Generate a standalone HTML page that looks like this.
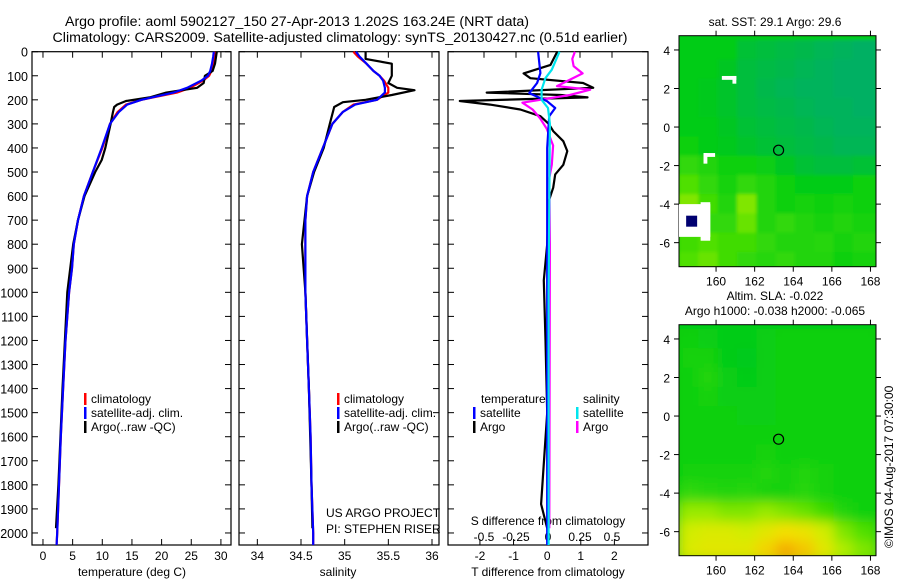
<!DOCTYPE html>
<html><head><meta charset="utf-8"><title>Argo profile</title>
<style>
html,body{margin:0;padding:0;background:#fff;}
svg{display:block;font-family:"Liberation Sans",sans-serif;}
text{fill:#000;}
</style></head>
<body>
<svg id="chart" width="900" height="580" viewBox="0 0 900 580" xmlns="http://www.w3.org/2000/svg">
<defs>
<clipPath id="clipMap1"><rect x="679" y="35.7" width="197" height="231"/></clipPath>
<clipPath id="clipMap2"><rect x="679" y="324.7" width="197" height="231"/></clipPath>
<filter id="blur1" x="-5%" y="-5%" width="110%" height="110%"><feGaussianBlur stdDeviation="1.5"/></filter>
<filter id="blur2" x="-5%" y="-5%" width="110%" height="110%"><feGaussianBlur stdDeviation="6"/></filter>
</defs>
<text x="297" y="26" font-size="14.2" text-anchor="middle">Argo profile: aoml 5902127_150 27-Apr-2013 1.202S 163.24E (NRT data)</text>
<text x="340" y="42" font-size="14.2" text-anchor="middle">Climatology: CARS2009. Satellite-adjusted climatology: synTS_20130427.nc (0.51d earlier)</text>
<text x="775" y="26" font-size="12" text-anchor="middle">sat. SST: 29.1 Argo: 29.6</text>
<text x="775" y="300" font-size="12" text-anchor="middle">Altim. SLA: -0.022</text>
<text x="775" y="315" font-size="12" text-anchor="middle">Argo h1000: -0.038 h2000: -0.065</text>
<text transform="translate(893,548) rotate(-90)" font-size="12">©IMOS 04-Aug-2017 07:30:00</text>
<g id="layer"></g>
</svg>
<script>
// ---------- profile data ----------
const depthClim = [0,20,50,80,100,120,150,170,200,220,250,300,400,500,600,700,800,900,1000,1200,1400,1600,1800,2000,2050];
const climT = [29.0,28.9,28.7,28.4,28.0,27.0,24.8,22.6,16.6,14.0,12.6,11.3,10.0,8.4,6.9,5.9,5.2,4.9,4.4,3.8,3.4,3.0,2.7,2.4,2.3];
const satT  = [28.8,28.7,28.5,28.2,27.8,26.7,24.3,22.0,16.6,14.2,12.8,11.3,9.9,8.4,6.9,5.9,5.2,4.9,4.4,3.8,3.4,3.0,2.7,2.4,2.3];
const climS = [35.10,35.15,35.25,35.33,35.40,35.45,35.50,35.50,35.37,35.10,34.98,34.86,34.75,34.64,34.57,34.55,34.55,34.55,34.55,34.57,34.59,34.61,34.62,34.64,34.64];
const satS  = [35.13,35.17,35.25,35.33,35.40,35.44,35.46,35.46,35.37,35.12,34.98,34.86,34.75,34.64,34.57,34.55,34.55,34.55,34.55,34.57,34.59,34.61,34.62,34.64,34.64];
const depthArgoT = [0,50,80,100,130,150,170,190,205,220,230,250,300,400,450,500,600,700,800,1000,1400,1800,1980];
const argoT = [29.3,29.0,28.6,27.3,27.1,26.0,20.8,18.0,14.0,12.5,12.0,11.8,11.4,10.5,9.9,8.8,7.0,5.9,5.1,4.1,3.3,2.6,2.2];
const depthArgoS = [0,30,50,80,100,130,150,160,180,200,210,230,300,400,500,600,800,1000,1400,1800,1980];
const argoS = [35.24,35.24,35.54,35.54,35.54,35.50,35.60,35.80,35.54,35.24,34.98,34.88,34.83,34.76,34.65,34.57,34.51,34.55,34.59,34.62,34.63];
// difference panel
const depthArgoTd = [0,55,90,110,130,150,170,180,190,205,220,240,268,300,330,372,413,470,510,565,620,800,950,1200,1500,1880,1980];
const argoTdiff = [0.3,0.1,-0.7,-0.5,1.07,1.37,-1.8,0.4,1.2,-2.6,-1.7,-0.8,-0.2,0.05,0.18,0.48,0.6,0.48,0.24,0.18,0.05,0,-0.1,-0.05,0,-0.18,0];
const depthSatTd = [0,89,130,172,206,234,268,400,1000,2050];
const satTdiff = [-0.27,-0.2,-0.3,-0.53,0,0.24,0.06,0,0,0];
const depthSatSd = [0,75,110,158,200,234,300,1000,2050];
const satSdiff = [0.09,0.03,-0.02,-0.05,-0.05,0,0.015,0.005,0.005];
const depthArgoSd = [0,30,60,90,143,158,180,212,240,278,320,390,470,525,800,1980];
const argoSdiff = [0.21,0.19,0.2,0.27,0.07,0.33,0.17,-0.2,-0.12,-0.06,-0.01,0.04,0.03,0.01,0.015,0.01];
// axis ticks
const depthTicks = [0,100,200,300,400,500,600,700,800,900,1000,1100,1200,1300,1400,1500,1600,1700,1800,1900,2000];
const tempTicks = [0,5,10,15,20,25,30];
const salTicks = [34,34.5,35,35.5,36];
const salTickLabels = ["34","34.5","35","35.5","36"];
const tdTicks = [-2,-1,0,1,2];
const sdTicks = [-0.5,-0.25,0,0.25,0.5];
const sdTickLabels = ["-0.5","-0.25","0","0.25","0.5"];
const lonTicks = [160,162,164,166,168];
const latTicks = [4,2,0,-2,-4,-6];
// map grids (rows lat 4..-7, cols lon 158.5..167.5), colour index 0 teal .. 5 orange
const mapLats = [4.5,3.5,2.5,1.5,0.5,-0.5,-1.5,-2.5,-3.5,-4.5,-5.5,-6.5,-7.5];
const mapLons = [158.08,159.1,160.1,161.1,162.1,163.1,164.1,165.1,166.1,167.1,168.3];
const sstGrid = [
[1,1,1,0.6,0.5,0.4,0.3,0.2,0.1,0],
[1,1,0.8,0.5,0.4,0.3,0.2,0.1,0,0],
[1,0.9,0.7,0.5,0.3,0.2,0.1,0.1,0,0],
[1,0.9,0.7,0.5,0.4,0.3,0.2,0.1,0.1,0],
[1,1,0.8,0.6,0.5,0.4,0.3,0.2,0.1,0.1],
[1.2,1,0.9,0.7,0.6,0.5,0.4,0.3,0.2,0.2],
[1.6,1.4,1.2,1.2,1.1,0.8,0.6,0.5,0.5,0.6],
[2,1.6,1.3,1.6,1.4,1.2,1,1,1,1.2],
[2.4,1.8,1.4,2.4,1.4,1.2,1.3,1.2,1.3,1.2],
[2.2,1.6,1.6,2.2,1.4,1.6,1.4,1.3,1.4,1.3],
[1.8,2,1.8,1.8,1.6,1.4,1.4,1.5,1.3,1.4],
[2,2.2,1.8,1.6,1.5,1.6,1.4,1.4,1.2,1.3]];
const slaGrid = [
[1.2,1.1,1.0,1.0,1.1,1.2,1.2,1.2,1.2,1.2],
[1.3,1.3,1.0,0.9,1.1,1.2,1.2,1.2,1.2,1.2],
[1.2,1.4,1.1,1.0,1.1,1.2,1.2,1.2,1.2,1.2],
[1.2,1.3,1.1,1.1,1.1,1.2,1.2,1.2,1.2,1.2],
[1.2,1.2,1.2,1.1,1.1,1.2,1.2,1.2,1.2,1.2],
[1.2,1.2,1.2,1.2,1.2,1.2,1.2,1.2,1.2,1.2],
[1.2,1.2,1.2,1.2,1.3,1.2,1.2,1.2,1.2,1.2],
[1.3,1.3,1.3,1.3,1.4,1.3,1.4,1.3,1.2,1.2],
[1.6,1.5,1.4,1.5,1.3,1.3,1.5,1.3,1.2,1.2],
[2.6,2.6,2.4,2.4,2.6,2.4,2.2,1.8,1.4,1.2],
[3.2,3.4,3.4,3.2,3.6,4.0,3.8,3.2,2.4,2.0],
[3.4,3.6,3.6,3.6,4.2,4.8,4.4,3.6,2.8,2.4]];
const floatLon = [163.24];
const floatLat = [-1.202];

// ---------- helpers ----------
const NS = "http://www.w3.org/2000/svg";
const layer = document.getElementById("layer");
function mk(tag, attrs, parent) {
  const e = document.createElementNS(NS, tag);
  for (const k in attrs) e.setAttribute(k, attrs[k]);
  (parent || layer).appendChild(e);
  return e;
}
const yTop = 51.7, yBot = 545, dMax = 2050;
function yD(d) { return yTop + d * (yBot - yTop) / dMax; }
const P1 = {l: 32, r: 231, min: -1.85, max: 31.7};
const P2 = {l: 239, r: 439, min: 33.79, max: 36.08};
const P3 = {l: 448, r: 648, min: -2.95, max: 3.0};
function xScale(p, v) { return p.l + (v - p.min) * (p.r - p.l) / (p.max - p.min); }
function xS3(v) { return 548 + v * 128; }

function frame(p, name) {
  const f = mk("rect", {x: p.l, y: yTop, width: p.r - p.l, height: yBot - yTop, fill: "none", stroke: "#000", "stroke-width": 1.2});
  
  
  depthTicks.forEach(d => {
    const y = yD(d);
    mk("line", {x1: p.l, x2: p.l + 6, y1: y, y2: y, stroke: "#000"});
    mk("line", {x1: p.r, x2: p.r - 6, y1: y, y2: y, stroke: "#000"});
  });
}
function line(depths, vals, xf, color, name, w) {
  const pts = depths.map((d, i) => xf(vals[i]).toFixed(1) + "," + yD(d).toFixed(1)).join(" ");
  const e = mk("polyline", {points: pts, fill: "none", stroke: color, "stroke-width": w || 2.2, "stroke-linejoin": "round"});
  
  
}
function txt(x, y, s, size, anchor, name) {
  const t = mk("text", {x: x, y: y, "font-size": size, "text-anchor": anchor || "start"});
  t.textContent = s;
  
  
  return t;
}
function legendBar(x, y, color, name) {
  const r = mk("rect", {x: x, y: y - 10, width: 2.5, height: 12, fill: color});
  
  
}

// ---------- panel 1: temperature ----------
frame(P1, "temperature-panel");
depthTicks.forEach(d => txt(28, yD(d) + 5, String(d), 12.5, "end", "depth-tick-label"));
tempTicks.forEach(v => {
  const x = xScale(P1, v);
  mk("line", {x1: x, x2: x, y1: yTop, y2: yTop + 6, stroke: "#000"});
  mk("line", {x1: x, x2: x, y1: yBot, y2: yBot - 6, stroke: "#000"});
  txt(x, 560, String(v), 12, "middle", "temperature-tick-label");
});
txt(132, 576, "temperature (deg C)", 12, "middle", "temperature-axis-title");
line(depthClim, climT, v => xScale(P1, v), "#ff0000", "temperature-climatology-line");
line(depthArgoT, argoT, v => xScale(P1, v), "#000000", "temperature-argo-line");
line(depthClim, satT, v => xScale(P1, v), "#0000ff", "temperature-satellite-line");
legendBar(84, 403, "#ff0000", "legend-climatology-marker");
txt(91, 403, "climatology", 12, "start", "legend-climatology");
legendBar(84, 417, "#0000ff", "legend-satellite-marker");
txt(91, 417, "satellite-adj. clim.", 12, "start", "legend-satellite-adj");
legendBar(84, 431, "#000000", "legend-argo-marker");
txt(91, 431, "Argo(..raw -QC)", 12, "start", "legend-argo");

// ---------- panel 2: salinity ----------
frame(P2, "salinity-panel");
salTicks.forEach((v, i) => {
  const x = xScale(P2, v);
  mk("line", {x1: x, x2: x, y1: yTop, y2: yTop + 6, stroke: "#000"});
  mk("line", {x1: x, x2: x, y1: yBot, y2: yBot - 6, stroke: "#000"});
  txt(x, 560, salTickLabels[i], 12, "middle", "salinity-tick-label");
});
txt(338, 576, "salinity", 12, "middle", "salinity-axis-title");
line(depthClim, climS, v => xScale(P2, v), "#ff0000", "salinity-climatology-line");
line(depthArgoS, argoS, v => xScale(P2, v), "#000000", "salinity-argo-line");
line(depthClim, satS, v => xScale(P2, v), "#0000ff", "salinity-satellite-line");
legendBar(337, 403, "#ff0000", "legend-climatology-marker");
txt(344, 403, "climatology", 12, "start", "legend-climatology");
legendBar(337, 417, "#0000ff", "legend-satellite-marker");
txt(344, 417, "satellite-adj. clim.", 12, "start", "legend-satellite-adj");
legendBar(337, 431, "#000000", "legend-argo-marker");
txt(344, 431, "Argo(..raw -QC)", 12, "start", "legend-argo");
txt(326, 517, "US ARGO PROJECT", 12, "start", "project-label");
txt(326, 533, "PI: STEPHEN RISER", 12, "start", "pi-label");

// ---------- panel 3: differences ----------
frame(P3, "difference-panel");
tdTicks.forEach(v => {
  const x = xScale(P3, v);
  mk("line", {x1: x, x2: x, y1: yBot, y2: yBot - 6, stroke: "#000"});
  txt(x, 560, String(v), 12, "middle", "t-diff-tick-label");
});
sdTicks.forEach((v, i) => {
  const x = xS3(v);
  mk("line", {x1: x, x2: x, y1: yTop, y2: yTop + 6, stroke: "#000"});
  txt(x, 541, sdTickLabels[i], 12, "middle", "s-diff-tick-label");
});
txt(548, 525, "S difference from climatology", 12, "middle", "s-diff-axis-title");
txt(548, 576, "T difference from climatology", 12, "middle", "t-diff-axis-title");
line(depthArgoTd, argoTdiff, v => xScale(P3, v), "#000000", "t-diff-argo-line");
line(depthArgoSd, argoSdiff, xS3, "#ff00ff", "s-diff-argo-line");
line(depthSatTd, satTdiff, v => xScale(P3, v), "#0000ff", "t-diff-satellite-line");
line(depthSatSd, satSdiff, xS3, "#00e5ee", "s-diff-satellite-line");
txt(481, 403, "temperature", 12, "start", "legend-temperature-heading");
txt(583, 403, "salinity", 12, "start", "legend-salinity-heading");
legendBar(473, 417, "#0000ff", "legend-t-satellite-marker");
txt(480, 417, "satellite", 12, "start", "legend-t-satellite");
legendBar(473, 431, "#000000", "legend-t-argo-marker");
txt(480, 431, "Argo", 12, "start", "legend-t-argo");
legendBar(576, 417, "#00e5ee", "legend-s-satellite-marker");
txt(583, 417, "satellite", 12, "start", "legend-s-satellite");
legendBar(576, 431, "#ff00ff", "legend-s-argo-marker");
txt(583, 431, "Argo", 12, "start", "legend-s-argo");

// ---------- maps ----------
const cmapStops = [[0,[0,176,100]],[1,[0,204,20]],[2,[80,224,0]],[3,[200,240,0]],[4,[244,224,0]],[5,[244,160,0]]];
function cmap(v) {
  for (let i = 0; i < cmapStops.length - 1; i++) {
    const a = cmapStops[i], b = cmapStops[i + 1];
    if (v <= b[0] || i === cmapStops.length - 2) {
      const t = Math.max(0, Math.min(1, (v - a[0]) / (b[0] - a[0])));
      const c = a[1].map((x, k) => Math.round(x + (b[1][k] - x) * t));
      return "rgb(" + c.join(",") + ")";
    }
  }
}
function drawMap(y0, grid, clip, filt, name) {
  const lonX = lon => 679 + (lon - 158.08) * 19.3;
  const latY = lat => y0 + (4.74 - lat) * 19.27;
  const g = mk("g", {"clip-path": "url(#" + clip + ")"});
  
  
  const gi = mk("g", {filter: "url(#" + filt + ")"}, g);
  mk("rect", {x: 660, y: y0 - 20, width: 240, height: 280, fill: cmap(1)}, gi);
  grid.forEach((row, r) => row.forEach((v, c) => {
    const x1 = lonX(mapLons[c]), x2 = lonX(mapLons[c + 1]);
    const ya = latY(Math.min(mapLats[r], 4.74)), yb = latY(mapLats[r + 1]);
    const cell = mk("rect", {x: x1 - 0.3, y: ya - 0.3, width: x2 - x1 + 0.6, height: yb - ya + 0.6, fill: cmap(v)}, gi);
    
    
  }));
  const fr = mk("rect", {x: 679, y: y0, width: 197, height: 231, fill: "none", stroke: "#000"});
  
  
  lonTicks.forEach(l => {
    const x = lonX(l);
    mk("line", {x1: x, x2: x, y1: y0 + 231, y2: y0 + 236, stroke: "#000"});
    mk("line", {x1: x, x2: x, y1: y0, y2: y0 - 5, stroke: "#000"});
    txt(x, y0 + 250, String(l), 12, "middle", "longitude-tick-label");
  });
  latTicks.forEach(l => {
    const y = latY(l);
    mk("line", {x1: 679, x2: 674, y1: y, y2: y, stroke: "#000"});
    mk("line", {x1: 876, x2: 881, y1: y, y2: y, stroke: "#000"});
    txt(670, y + 5, String(l), 12, "end", "latitude-tick-label");
  });
  const c = mk("circle", {cx: lonX(floatLon[0]), cy: latY(floatLat[0]), r: 5, fill: "none", stroke: "#000", "stroke-width": 1.2});
  
  
  return {lonX, latY, g};
}
const m1 = drawMap(35.7, sstGrid, "clipMap1", "blur1", "sst-map");
// white no-data patches on SST map
[[160.3,2.65,161.05,2.45],[160.85,2.65,161.05,2.25],[159.35,-1.35,159.95,-1.55],[159.35,-1.35,159.55,-1.9],[158.08,-4.0,159.7,-5.7],[159.2,-3.9,159.7,-5.9]].forEach(b => {
  const r = mk("rect", {x: m1.lonX(b[0]), y: m1.latY(b[1]), width: m1.lonX(b[2]) - m1.lonX(b[0]), height: m1.latY(b[3]) - m1.latY(b[1]), fill: "#fff"});
  
  
});
const nav = mk("rect", {x: m1.lonX(158.45), y: m1.latY(-4.6), width: 11, height: 11, fill: "#000070"});


drawMap(324.7, slaGrid, "clipMap2", "blur2", "sla-map");
</script>
</body></html>
